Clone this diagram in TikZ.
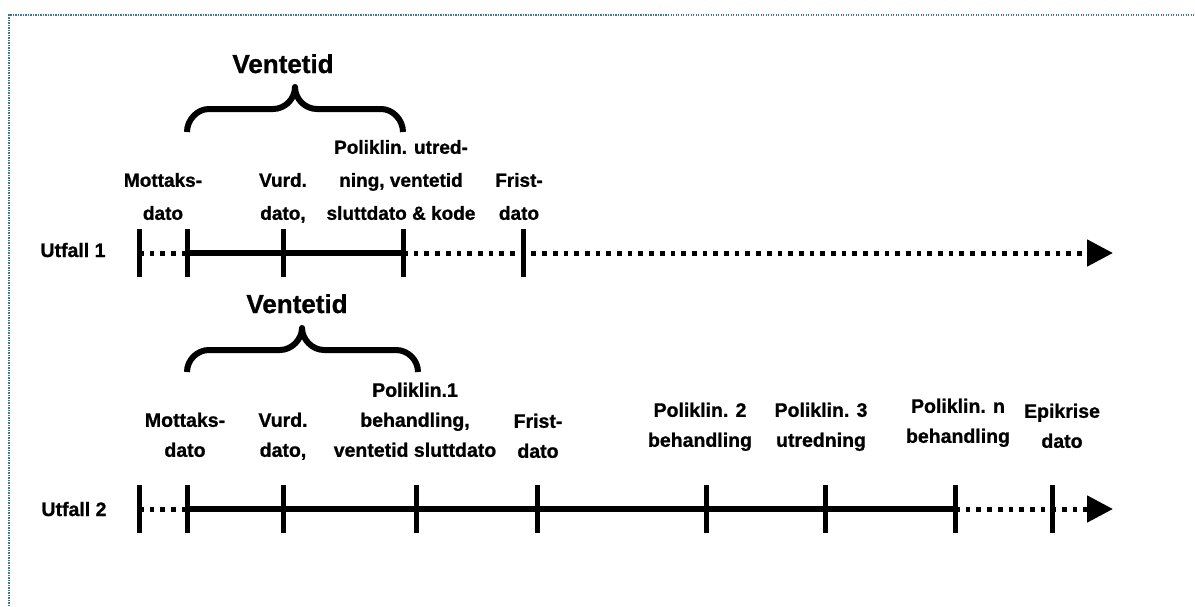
\documentclass[tikz,border=0pt]{standalone}
\usepackage{fontspec}
\setmainfont[BoldFeatures={FakeBold=1}]{Liberation Sans}
\usetikzlibrary{arrows.meta}
\definecolor{framecol}{RGB}{62,120,152}
\tikzset{
  lbl/.style={font=\bfseries\fontsize{19}{33}\selectfont, align=center, inner sep=0pt, text depth=0pt, anchor=south},
  lbltwo/.style={lbl, font=\bfseries\fontsize{19.5}{30}\selectfont},
  head/.style={font=\bfseries\fontsize{26}{30}\selectfont, inner sep=0pt, anchor=base},
  solidline/.style={line width=5.5pt},
  dotline/.style={line width=5pt, dash pattern=on 4.7pt off 6pt},
  tickline/.style={line width=5pt},
  bracket/.style={line width=6pt, line join=round},
  tip/.style={-{Triangle[length=26pt,width=26pt]}}
}
\begin{document}
\begin{tikzpicture}[x=1pt,y=-1pt]
    \useasboundingbox (0,0) rectangle (1195,606);
    %% frame
    \draw[framecol, line width=1.5pt, dash pattern=on 1.2pt off 1.3pt] (9,606) -- (9,15) -- (1195,15);
    %% points on the time lines
    \coordinate (a1) at (139,253); \coordinate (b1) at (187,253);
    \coordinate (c1) at (283,253); \coordinate (d1) at (403,253);
    \coordinate (e1) at (523,253); \coordinate (end1) at (1113,253);
    \coordinate (a2) at (139,509); \coordinate (b2) at (187,509);
    \coordinate (c2) at (283,509); \coordinate (d2) at (416,509);
    \coordinate (e2) at (537,509); \coordinate (f2) at (706,509);
    \coordinate (g2) at (825,509); \coordinate (h2) at (955,509);
    \coordinate (i2) at (1052,509); \coordinate (end2) at (1113,509);
    %% Utfall 1
    \node[head, font=\bfseries\fontsize{19.5}{24}\selectfont] (u1) at (73,257) {Utfall 1};
    \draw[dotline] (a1) -- (b1);
    \draw[solidline] (b1) -- (d1);
    \draw[dotline,tip] (d1) -- (end1);
    \foreach \p in {a1,b1,c1,d1,e1}
        \draw[tickline] ([yshift=24pt]\p) -- ([yshift=-24pt]\p);
    \node[lbl] (mot1) at (163,220) {Mottaks-\\dato};
    \node[lbl] (vur1) at (283,220) {Vurd.\\dato,};
    \node[lbl] (pol1) at (401,220) {Poliklin. utred-\\ning, ventetid\\sluttdato \& kode};
    \node[lbl] (fri1) at (519,220) {Frist-\\dato};
    \draw[bracket] (187,132) .. controls (187,120) and (197,109) .. (209,109) -- (273,109)
        .. controls (285,109) and (295,99) .. (295,87) .. controls (295,99) and (305,109) .. (317,109)
        -- (381,109) .. controls (393,109) and (403,120) .. (403,132);
    \node[head] (v1) at (283,73) {Ventetid};
    %% Utfall 2
    \node[head, font=\bfseries\fontsize{19.5}{24}\selectfont] (u2) at (74,516) {Utfall 2};
    \draw[dotline] (a2) -- (b2);
    \draw[solidline] (b2) -- (h2);
    \draw[dotline,tip] (h2) -- (end2);
    \foreach \p in {a2,b2,c2,d2,e2,f2,g2,h2,i2}
        \draw[tickline] ([yshift=24pt]\p) -- ([yshift=-24pt]\p);
    \node[lbltwo] (mot2) at (185,457) {Mottaks-\\dato};
    \node[lbltwo] (vur2) at (283,457) {Vurd.\\dato,};
    \node[lbltwo] (pk1) at (415,457) {Poliklin.1\\behandling,\\ventetid sluttdato};
    \node[lbltwo] (fri2) at (538,458) {Frist-\\dato};
    \node[lbltwo] (pk2) at (700,447) {Poliklin. 2\\behandling};
    \node[lbltwo] (pk3) at (821,447) {Poliklin. 3\\utredning};
    \node[lbltwo] (pkn) at (958,443) {Poliklin. n\\behandling};
    \node[lbltwo] (epi) at (1062,448) {Epikrise\\dato};
    \draw[bracket] (187,372) .. controls (187,360) and (197,350) .. (209,350) -- (280,350)
        .. controls (292,350) and (302,339) .. (302,328) .. controls (302,339) and (312,350) .. (324,350)
        -- (396,350) .. controls (408,350) and (418,360) .. (418,372);
    \node[head] (v2) at (297,313) {Ventetid};
\end{tikzpicture}
\end{document}
